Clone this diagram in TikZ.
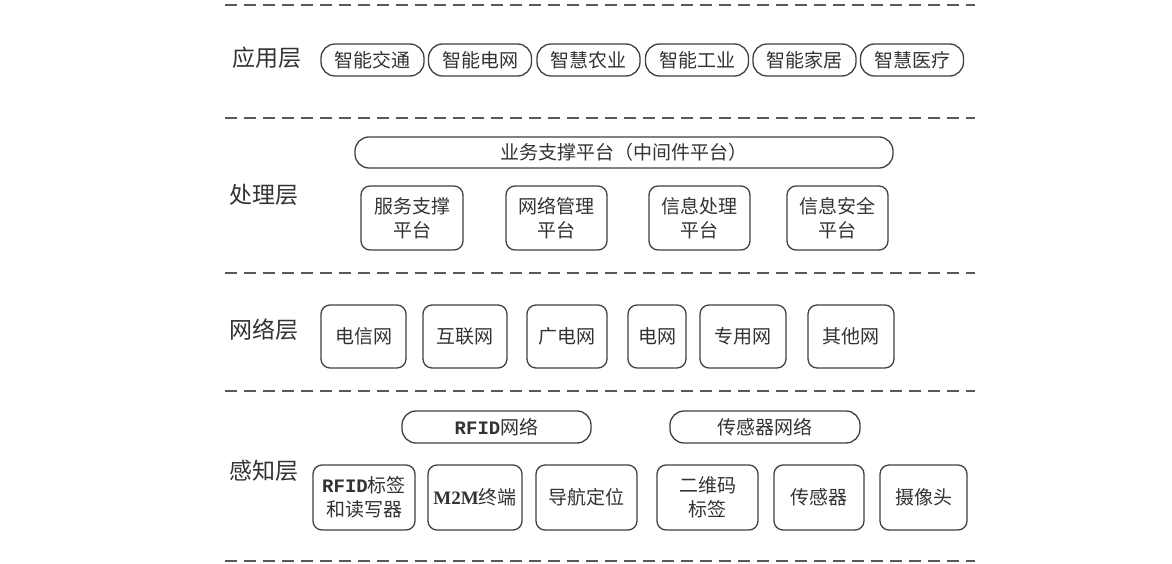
\documentclass[tikz,border=0pt]{standalone}
\usepackage{fontspec}
\setmainfont{Noto Sans CJK SC}
\newfontfamily\monofnt{Liberation Mono}
\newfontfamily\serifnt{Liberation Serif}
\begin{document}
\begin{tikzpicture}[x=1pt,y=-1pt,
  box/.style={draw=black!75, line width=1.3pt, rounded corners=9pt, inner sep=0pt, align=center,
    font=\fontsize{19}{24}\selectfont, text=black!80},
  pill/.style={box, rounded corners=14pt},
  layer/.style={font=\fontsize{23}{26}\selectfont, text=black!80},
  sepline/.style={draw=black!65, line width=2pt, dash pattern=on 12pt off 7pt}]
\useasboundingbox[fill=white] (0,0) rectangle (1172,564);
% separators
\foreach \yy in {5,118,273,391,561}
  \draw[sepline] (225,\yy) -- (975,\yy);
% layer labels
\node[layer] (l1) at (267,58) {应用层};
\node[layer] (l2) at (264,195) {处理层};
\node[layer] (l3) at (264,330) {网络层};
\node[layer] (l4) at (264,471) {感知层};
% application layer
\node[pill, minimum width=103, minimum height=32] (a1) at (372.5,60) {智能交通};
\node[pill, minimum width=103, minimum height=32] (a2) at (480,60) {智能电网};
\node[pill, minimum width=103, minimum height=32] (a3) at (588.5,60) {智慧农业};
\node[pill, minimum width=103, minimum height=32] (a4) at (697,60) {智能工业};
\node[pill, minimum width=103, minimum height=32] (a5) at (804.5,60) {智能家居};
\node[pill, minimum width=103, minimum height=32] (a6) at (912,60) {智慧医疗};
% processing layer
\node[pill, minimum width=538, minimum height=31] (p0) at (624,152.5) {业务支撑平台（中间件平台）};
\node[box, minimum width=102, minimum height=64] (p1) at (412,218) {服务支撑\\平台};
\node[box, minimum width=101, minimum height=64] (p2) at (556.5,218) {网络管理\\平台};
\node[box, minimum width=101, minimum height=64] (p3) at (699.5,218) {信息处理\\平台};
\node[box, minimum width=101, minimum height=64] (p4) at (837.5,218) {信息安全\\平台};
% network layer
\node[box, minimum width=85, minimum height=63] (n1) at (363.5,336.5) {电信网};
\node[box, minimum width=84, minimum height=63] (n2) at (465,336.5) {互联网};
\node[box, minimum width=80, minimum height=63] (n3) at (567,336.5) {广电网};
\node[box, minimum width=58, minimum height=63] (n4) at (657,336.5) {电网};
\node[box, minimum width=86, minimum height=63] (n5) at (743,336.5) {专用网};
\node[box, minimum width=86, minimum height=63] (n6) at (851,336.5) {其他网};
% perception layer
\node[pill, minimum width=189, minimum height=32] (s1) at (496.5,427) {{\monofnt\bfseries RFID}网络};
\node[pill, minimum width=190, minimum height=32] (s2) at (765,427) {传感器网络};
\node[box, minimum width=102, minimum height=65] (t1) at (364,497.5) {{\monofnt\bfseries RFID}标签\\和读写器};
\node[box, minimum width=94, minimum height=65] (t2) at (475,497.5) {{\serifnt\bfseries M2M}终端};
\node[box, minimum width=101, minimum height=65] (t3) at (586.5,497.5) {导航定位};
\node[box, minimum width=101, minimum height=65] (t4) at (707.5,497.5) {二维码\\标签};
\node[box, minimum width=90, minimum height=65] (t5) at (819,497.5) {传感器};
\node[box, minimum width=87, minimum height=65] (t6) at (923.5,497.5) {摄像头};
\end{tikzpicture}
\end{document}
